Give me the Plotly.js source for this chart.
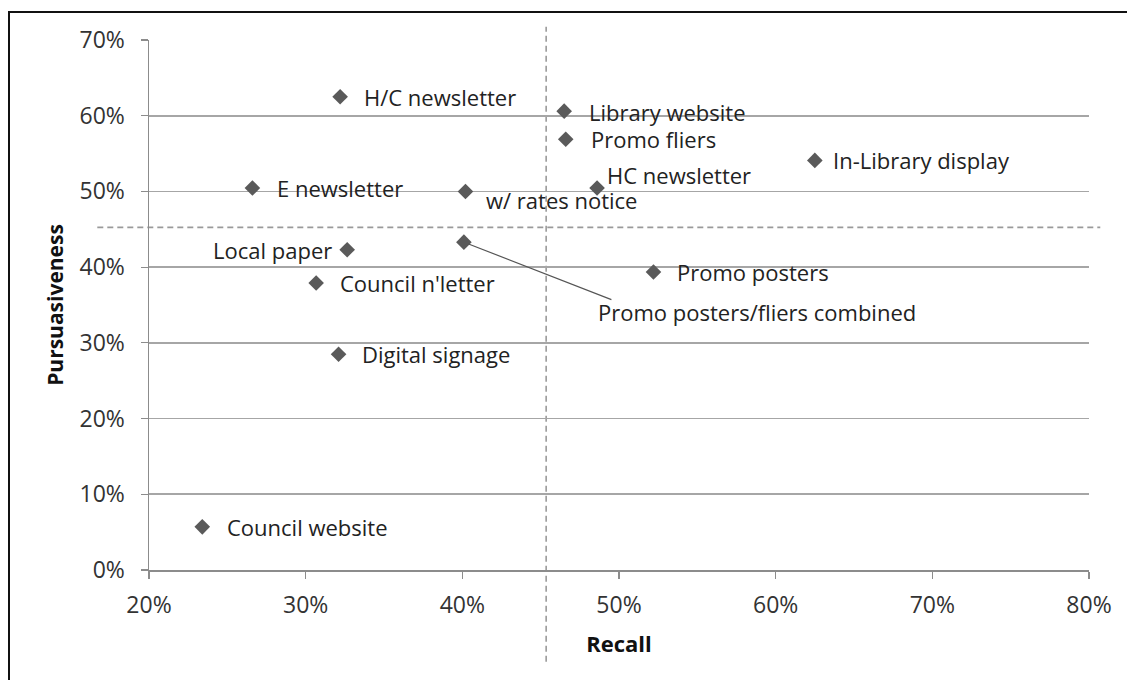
<!DOCTYPE html>
<html>
<head>
<meta charset="utf-8">
<script src="https://cdn.plot.ly/plotly-3.0.1.min.js"></script>
<style>
  html, body { margin: 0; padding: 0; background: #fff; }
  #wrap { position: relative; width: 1127px; height: 680px; }
  #chart { position: absolute; left: 0; top: 0; width: 1127px; height: 680px; }
  .frameTop { position: absolute; left: 8px; top: 11px; width: 1119px; height: 2px; background: #111; }
  .frameLeft { position: absolute; left: 8px; top: 11px; width: 2px; height: 669px; background: #111; }
</style>
</head>
<body>
<div id="wrap">
  <div id="chart"></div>
  <div class="frameTop"></div>
  <div class="frameLeft"></div>
</div>
<script>
// ---- Data ----
const channels = [
  "H/C newsletter", "Library website", "Promo fliers", "In-Library display",
  "E newsletter", "w/ rates notice", "HC newsletter", "Local paper",
  "Promo posters/fliers combined", "Council n'letter", "Promo posters",
  "Digital signage", "Council website"
];
const recall = [0.322, 0.465, 0.466, 0.625, 0.266, 0.402, 0.486, 0.3265, 0.401, 0.3067, 0.522, 0.321, 0.234];
const pursuasiveness = [0.625, 0.606, 0.569, 0.541, 0.5045, 0.500, 0.5045, 0.423, 0.433, 0.379, 0.3935, 0.285, 0.057];
const recallAverage = 0.4535;
const pursuasivenessAverage = 0.4525;
const xTickVals = [0.2, 0.3, 0.4, 0.5, 0.6, 0.7, 0.8];
const xTickText = ["20%", "30%", "40%", "50%", "60%", "70%", "80%"];
const yTickVals = [0, 0.1, 0.2, 0.3, 0.4, 0.5, 0.6, 0.7];
const yTickText = ["0%", "10%", "20%", "30%", "40%", "50%", "60%", "70%"];

// ---- Label placement (style only, pixel offsets) ----
const labelStyle = [
  {xa: "left", dx: 22, dy: 0},
  {xa: "left", dx: 23, dy: -1},
  {xa: "left", dx: 23, dy: 0},
  {xa: "left", dx: 16, dy: 0},
  {xa: "left", dx: 23, dy: 0},
  {xa: "left", dx: 19, dy: -9},
  {xa: "left", dx: 8, dy: 13},
  {xa: "right", dx: -13, dy: 0},
  {xa: "left", dx: 132, dy: -70, leader: {ax: 149, ay: 58}},
  {xa: "left", dx: 22, dy: 0},
  {xa: "left", dx: 22, dy: 0},
  {xa: "left", dx: 21, dy: 0},
  {xa: "left", dx: 23, dy: 0}
];

const FONT = "Open Sans, Noto Sans, DejaVu Sans, sans-serif";
const textColor = "#222";

const annotations = [];
channels.forEach((name, i) => {
  const st = labelStyle[i];
  annotations.push({
    x: recall[i], y: pursuasiveness[i], xref: "x", yref: "y",
    text: name, showarrow: false, xanchor: st.xa, yanchor: "middle",
    xshift: st.dx, yshift: st.dy,
    font: {family: FONT, size: 22, color: textColor}
  });
  if (st.leader) {
    annotations.push({
      x: recall[i], y: pursuasiveness[i], xref: "x", yref: "y",
      text: "", showarrow: true, arrowhead: 0, arrowwidth: 1.2, arrowcolor: "#555",
      axref: "pixel", ayref: "pixel", ax: st.leader.ax, ay: st.leader.ay,
      standoff: 5
    });
  }
});

const trace = {
  type: "scatter", mode: "markers",
  x: recall, y: pursuasiveness, text: channels,
  marker: {symbol: "diamond", size: 12, color: "#5a5a5a"},
  hoverinfo: "text+x+y", showlegend: false, cliponaxis: false
};

const layout = {
  width: 1127, height: 680,
  margin: {l: 148.5, r: 38, t: 40, b: 110},
  paper_bgcolor: "#fff", plot_bgcolor: "#fff",
  font: {family: FONT, size: 22, color: "#333"},
  showlegend: false,
  xaxis: {
    range: [0.2, 0.8], tickvals: xTickVals, ticktext: xTickText,
    showgrid: false, zeroline: false,
    showline: true, linecolor: "#8c8c8c", linewidth: 1.5,
    ticks: "outside", ticklen: 7, tickcolor: "#8c8c8c", tickwidth: 1.2,
    ticklabelstandoff: 7,
    tickfont: {family: FONT, size: 23, color: "#333"},
    title: {text: "<b>Recall</b>", font: {family: FONT, size: 22, color: "#111"}, standoff: 17}
  },
  yaxis: {
    range: [0, 0.7], tickvals: yTickVals, ticktext: yTickText,
    showgrid: true, gridcolor: "#a6a6a6", gridwidth: 1.8,
    zeroline: false,
    showline: true, linecolor: "#8c8c8c", linewidth: 1.5,
    ticks: "outside", ticklen: 7, tickcolor: "#8c8c8c", tickwidth: 1.2,
    ticklabelstandoff: 11,
    tickfont: {family: FONT, size: 23, color: "#333"},
    title: {text: "<b>Pursuasiveness</b>", font: {family: FONT, size: 21, color: "#111"}, standoff: 10}
  },
  shapes: [
    {type: "line", xref: "x", yref: "paper", x0: recallAverage, x1: recallAverage, y0: -0.173, y1: 1.025,
     line: {color: "#9a9a9a", width: 1.6, dash: "6px,4px"}, layer: "below"},
    {type: "line", xref: "paper", yref: "y", x0: -0.055, x1: 1.012, y0: pursuasivenessAverage, y1: pursuasivenessAverage,
     line: {color: "#9a9a9a", width: 1.6, dash: "6px,4px"}, layer: "below"}
  ],
  annotations: annotations
};

Plotly.newPlot("chart", [trace], layout, {displayModeBar: false, staticPlot: true});
</script>
</body>
</html>
